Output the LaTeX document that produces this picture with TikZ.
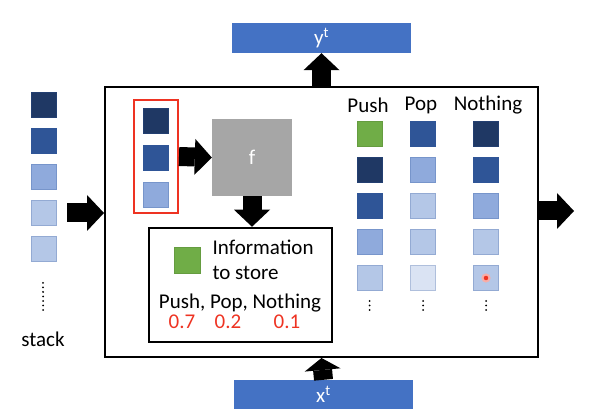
\documentclass[tikz,border=0pt]{standalone}
\usepackage{fontspec}
\setmainfont{Carlito}
\usetikzlibrary{positioning,arrows.meta}
\definecolor{sdark}{HTML}{1F3864}
\definecolor{smid}{HTML}{2F5597}
\definecolor{slight}{HTML}{8FAADC}
\definecolor{slighter}{HTML}{B4C7E7}
\definecolor{spale}{HTML}{DAE3F3}
\definecolor{sgreen}{HTML}{70AD47}
\definecolor{barblue}{HTML}{4472C4}
\definecolor{fgray}{HTML}{A6A6A6}
\definecolor{pred}{HTML}{EE3322}
\begin{document}
\begin{tikzpicture}[x=1pt,y=-1pt,node distance=36pt,font=\fontsize{21}{25}\selectfont,
    cell/.style={fill=#1,draw=#1!75!smid,line width=0.8pt,minimum size=25pt,inner sep=0pt},
    green cell/.style={cell=sgreen,draw=sgreen!90!black},
    bar/.style={fill=barblue,text=white,minimum width=179pt,minimum height=30pt},
    fat arrow/.style={line width=19pt,-{Triangle[width=36pt 0 0,length=17pt 0 0,line width=0pt]}},
    short arrow/.style={line width=19pt,-{Triangle[width=36pt 0 0,length=12pt 0 0,line width=0pt]}},
    dots/.style={line width=2pt,line cap=round,dash pattern=on 0pt off 4.5pt}]
    \useasboundingbox (0,0) rectangle (598,417);

    \node[bar] (ybar) at (321.5,38) {y\textsuperscript{t}};
    \node[bar,minimum height=29pt] (xbar) at (323.5,394.5) {x\textsuperscript{t}};
    \node[draw,line width=2pt,minimum width=433pt,minimum height=270pt] (main) at (321.5,222) {};

    % stack on the left
    \node[cell=sdark] (s1) at (43.5,104.5) {};
    \node[cell=smid] (s2) [below of=s1] {};
    \node[cell=slight] (s3) [below of=s2] {};
    \node[cell=slighter] (s4) [below of=s3] {};
    \node[cell=slighter] (s5) [below of=s4] {};
    \draw[dots] (43,283) -- (43,311);
    \node (stack) at (43,339) {stack};

    % top of stack and f
    \node[draw=pred,line width=2pt,minimum width=44pt,minimum height=113pt] (frame) at (156,156.5) {};
    \node[cell=sdark] (r1) at (156,120.5) {};
    \node[cell=smid] (r2) [below of=r1,node distance=37pt] {};
    \node[cell=slight] (r3) [below of=r2,node distance=37pt] {};
    \node[fill=fgray,text=white,minimum width=80pt,minimum height=77pt] (f) at (252,157.5) {f};

    \node[draw,line width=2.5pt,minimum width=183pt,minimum height=114pt] (info) at (240.5,285) {};
    \node[green cell,minimum size=26pt] (g) at (187,260) {};
    \node[right=10pt of g,align=left,inner sep=2pt] (infotext) {Information\\to store};
    \node (ops) at (240,303) {Push, Pop, Nothing};
    \node[text=pred] (v1) at (182,322) {0.7};
    \node[text=pred] (v2) at (228,322) {0.2};
    \node[text=pred] (v3) at (287,322) {0.1};

    % the three new stacks
    \node (push) at (368,105) {Push};
    \node (pop) at (421,105) {Pop};
    \node (nothing) at (488,105) {Nothing};

    \node[green cell] (p1) at (369.5,134) {};
    \node[cell=sdark] (p2) [below of=p1] {};
    \node[cell=smid] (p3) [below of=p2] {};
    \node[cell=slight] (p4) [below of=p3] {};
    \node[cell=slighter] (p5) [below of=p4] {};

    \node[cell=smid] (o1) at (423,134) {};
    \node[cell=slight] (o2) [below of=o1] {};
    \node[cell=slighter] (o3) [below of=o2] {};
    \node[cell=slighter] (o4) [below of=o3] {};
    \node[cell=spale] (o5) [below of=o4] {};

    \node[cell=sdark] (n1) at (486,134) {};
    \node[cell=smid] (n2) [below of=n1] {};
    \node[cell=slight] (n3) [below of=n2] {};
    \node[cell=slighter] (n4) [below of=n3] {};
    \node[cell=slighter] (n5) [below of=n4] {};
    \draw[pred!40,fill=pred,line width=2pt] (n5) circle (3.5pt);

    \draw[dots] (369.5,301) -- (369.5,312);
    \draw[dots] (423,301) -- (423,312);
    \draw[dots] (486,301) -- (486,312);

    % block arrows
    \coordinate (instack) at (67,213);
    \coordinate (out) at (574,211);
    \draw[fat arrow] (main.north) -- (ybar.south);
    \draw[short arrow] (xbar.north) -- (main.south);
    \draw[fat arrow] (instack) -- (instack -| main.west);
    \draw[fat arrow] (out -| main.east) -- (out);
    \draw[fat arrow] (frame.east) -- (f.west);
    \draw[fat arrow] (f.south) -- (f.south |- info.north);
\end{tikzpicture}
\end{document}
